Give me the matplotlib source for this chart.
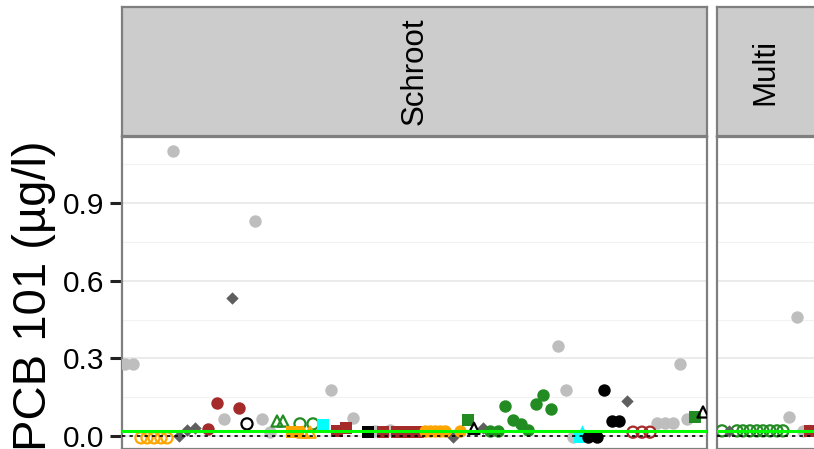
import matplotlib.pyplot as plt
from matplotlib.ticker import MultipleLocator

plt.rcParams['font.family'] = ['Liberation Sans', 'DejaVu Sans']

# sample positions along each panel and PCB 101 values (ug/l)
# --- Schroot panel ---
gray_pos = [3, 11, 51, 133, 102, 140, 148, 209, 231, 253, 268, 436, 444, 451, 535, 543, 551, 558, 565]
gray_val = [0.28, 0.28, 1.10, 0.83, 0.066, 0.066, 0.015, 0.178, 0.07, 0.02, 0.025,
            0.348, 0.178, -0.003, 0.05, 0.05, 0.05, 0.28, 0.066]
orange_open_pos = [19, 25, 32, 39, 45]
orange_open_val = [-0.007, -0.007, -0.007, -0.007, -0.007]
diamond_pos = [57, 65, 73, 110, 331, 361, 505]
diamond_val = [0.0, 0.025, 0.03, 0.533, -0.002, 0.03, 0.135]
brown_pos = [86, 95, 117]
brown_val = [0.027, 0.127, 0.11]
black_open_pos = [125]
black_open_val = [0.047]
green_tri_pos = [155, 161]
green_tri_val = [0.058, 0.058]
green_open_pos = [178, 191]
green_open_val = [0.047, 0.047]
orange_sq_pos = [170, 176]
orange_sq_val = [0.015, 0.015]
orange_tri_pos = [181, 188]
orange_tri_val = [0.015, 0.015]
cyan_sq_pos = [201, 458]
cyan_sq_val = [0.042, -0.005]
cyan_tri_pos = [460]
cyan_tri_val = [0.02]
brown_sq_pos = [215, 224, 261, 275, 282, 289, 296]
brown_sq_val = [0.02, 0.03, 0.015, 0.015, 0.015, 0.015, 0.015]
black_sq_pos = [246]
black_sq_val = [0.015]
orange_pos = [303, 308, 313, 318, 323, 338]
orange_val = [0.02, 0.02, 0.02, 0.02, 0.02, 0.02]
green_sq_pos = [346, 573]
green_sq_val = [0.062, 0.073]
black_tri_pos = [352, 581]
black_tri_val = [0.03, 0.093]
green_pos = [368, 376, 383, 391, 399, 406, 414, 421, 429]
green_val = [0.02, 0.02, 0.116, 0.062, 0.046, 0.025, 0.124, 0.158, 0.104]
black_pos = [466, 475, 482, 490, 497]
black_val = [-0.003, -0.003, 0.178, 0.058, 0.058]
brown_open_pos = [511, 520, 528]
brown_open_val = [0.015, 0.015, 0.015]

# --- Multi panel ---
m_green_open_pos = [5, 20, 26, 33, 40, 46, 53, 60, 66]
m_green_open_val = [0.02] * 9
m_diamond_pos = [12]
m_diamond_val = [0.02]
m_gray_pos = [80, 72, 86]
m_gray_val = [0.46, 0.073, 0.02]
m_brown_sq_pos = [93]
m_brown_sq_val = [0.02]

limit_val = 0.02
y_ticks = [0, 0.3, 0.6, 0.9]
y_ticklabels = ['0.0', '0.3', '0.6', '0.9']

GRAY = '#BEBEBE'
ORANGE = '#FFA500'
DGRAY = '#5F5F5F'
BROWN = '#A52A2A'
GREEN = '#228B22'
CYAN = '#00FFFF'

fig = plt.figure(figsize=(8.14, 4.49), dpi=100)
ax1 = fig.add_axes([122 / 814, 0, 585 / 814, 312 / 449])
ax2 = fig.add_axes([717 / 814, 0, 120 / 814, 312 / 449])

S = 80


def filled(ax, x, y, c, m):
    size = S * 0.5 if m == 'D' else S
    ax.scatter(x, y, s=size, c=c, marker=m, linewidths=0, zorder=3)


def hollow(ax, x, y, c, m):
    ax.scatter(x, y, s=S * 0.8, facecolors='none', edgecolors=c, marker=m, linewidths=1.6, zorder=3)


filled(ax1, gray_pos, gray_val, GRAY, 'o')
hollow(ax1, orange_open_pos, orange_open_val, ORANGE, 'o')
filled(ax1, diamond_pos, diamond_val, DGRAY, 'D')
filled(ax1, brown_pos, brown_val, BROWN, 'o')
hollow(ax1, black_open_pos, black_open_val, 'black', 'o')
hollow(ax1, green_tri_pos, green_tri_val, GREEN, '^')
hollow(ax1, green_open_pos, green_open_val, GREEN, 'o')
filled(ax1, orange_sq_pos, orange_sq_val, ORANGE, 's')
hollow(ax1, orange_tri_pos, orange_tri_val, ORANGE, '^')
filled(ax1, cyan_sq_pos, cyan_sq_val, CYAN, 's')
filled(ax1, cyan_tri_pos, cyan_tri_val, CYAN, '^')
filled(ax1, brown_sq_pos, brown_sq_val, BROWN, 's')
filled(ax1, black_sq_pos, black_sq_val, 'black', 's')
filled(ax1, orange_pos, orange_val, ORANGE, 'o')
filled(ax1, green_sq_pos, green_sq_val, GREEN, 's')
hollow(ax1, black_tri_pos, black_tri_val, 'black', '^')
filled(ax1, green_pos, green_val, GREEN, 'o')
filled(ax1, black_pos, black_val, 'black', 'o')
hollow(ax1, brown_open_pos, brown_open_val, BROWN, 'o')

hollow(ax2, m_green_open_pos, m_green_open_val, GREEN, 'o')
filled(ax2, m_diamond_pos, m_diamond_val, DGRAY, 'D')
filled(ax2, m_gray_pos, m_gray_val, GRAY, 'o')
filled(ax2, m_brown_sq_pos, m_brown_sq_val, BROWN, 's')

for ax, xmax in [(ax1, 585), (ax2, 120)]:
    ax.set_xlim(0, xmax)
    ax.set_ylim(-0.05, 1.155)
    ax.axhline(limit_val, color='#00FF00', lw=2.2, zorder=4)
    ax.axhline(0, color='black', lw=1.2, ls=(0, (2, 2.5)), zorder=4)
    ax.yaxis.set_major_locator(MultipleLocator(0.3))
    ax.yaxis.set_minor_locator(MultipleLocator(0.15))
    ax.grid(which='major', axis='y', color='#EBEBEB', lw=1.4, zorder=0)
    ax.grid(which='minor', axis='y', color='#F2F2F2', lw=0.8, zorder=0)
    ax.set_xticks([])
    for sp in ax.spines.values():
        sp.set_color('#7F7F7F')
        sp.set_linewidth(1.6)
    ax.set_axisbelow(True)

ax1.set_yticks(y_ticks)
ax1.set_yticklabels(y_ticklabels)
ax1.tick_params(axis='y', which='major', length=8.5, width=2.2, color='#222222',
                labelsize=21.5, labelcolor='black', pad=4)
ax1.tick_params(axis='y', which='minor', length=0)
ax2.tick_params(axis='y', which='both', length=0, labelleft=False)

fig.text(34 / 814, 1 - 296 / 449, 'PCB 101 (µg/l)', rotation=90, fontsize=34,
         ha='center', va='center')

# facet strips
for left, width, label in [(122, 585, 'Schroot'), (717, 120, 'Multi')]:
    sax = fig.add_axes([left / 814, 1 - 136 / 449, width / 814, 129 / 449])
    sax.set_facecolor('#CCCCCC')
    sax.set_xticks([])
    sax.set_yticks([])
    for sp in sax.spines.values():
        sp.set_color('#7F7F7F')
        sp.set_linewidth(1.6)
    cx = 0.5 if label == 'Schroot' else (765 - left) / width
    sax.text(cx, 0.5, label, rotation=90, fontsize=22.5, ha='center', va='center',
             transform=sax.transAxes)

fig.savefig('out.png', dpi=100)
